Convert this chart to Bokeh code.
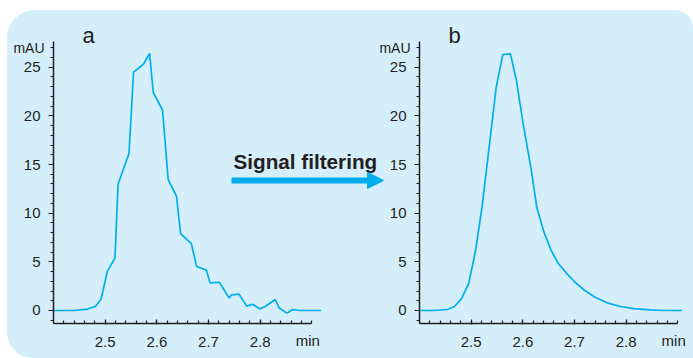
from bokeh.plotting import figure
from bokeh.models import (FixedTicker, Label, Arrow, NormalHead, Range1d, LinearAxis)
from bokeh.embed import file_html
from bokeh.resources import INLINE

# raw signal (panel a)
raw_t = [2.400, 2.440, 2.466, 2.481, 2.492, 2.504, 2.519, 2.525, 2.546, 2.555, 2.574,
         2.586, 2.593, 2.611, 2.622, 2.638, 2.646, 2.667, 2.677, 2.696, 2.703, 2.721,
         2.740, 2.744, 2.759, 2.774, 2.785, 2.799, 2.810, 2.829, 2.837, 2.852, 2.863,
         2.878, 2.918]
raw_y = [0.0, 0.0, 0.15, 0.42, 1.15, 4.0, 5.4, 13.0, 16.1, 24.5, 25.3,
         26.4, 22.4, 20.6, 13.45, 11.75, 7.9, 6.85, 4.52, 4.15, 2.83, 2.9,
         1.27, 1.6, 1.68, 0.45, 0.64, 0.17, 0.41, 1.13, 0.24, -0.27, 0.1,
         0.0, 0.0]

# filtered signal (panel b)
filt_t = [2.400, 2.428, 2.454, 2.468, 2.481, 2.495, 2.508, 2.521, 2.5355, 2.5485,
          2.5613, 2.576, 2.5877, 2.6006, 2.6165, 2.627, 2.640, 2.6545, 2.669, 2.6855,
          2.701, 2.720, 2.740, 2.763, 2.789, 2.815, 2.847, 2.872, 2.908]
filt_y = [0.0, 0.0, 0.1, 0.41, 1.2, 2.74, 6.0, 10.6, 17.1, 22.95,
          26.3, 26.37, 23.6, 19.2, 14.4, 10.6, 8.2, 6.2, 4.8, 3.77,
          2.9, 2.05, 1.37, 0.79, 0.41, 0.2, 0.07, 0.0, 0.0]

panel_labels = ["a", "b"]
x_major = [2.5, 2.6, 2.7, 2.8]
x_minor = [round(2.42 + 0.02 * i, 2) for i in range(25)]
y_major = [0, 5, 10, 15, 20, 25]
y_minor = list(range(-1, 28))
x_bounds = (2.4, 2.9)
y_bounds = (-1.336, 27.64)

LINE = "#00aeef"
TEXT = "#231f20"
BG = "#d4eefa"
FONT = "Liberation Sans"

p = figure(width=686, height=348, output_backend="svg", toolbar_location=None,
           x_range=Range1d(2.31097, 3.63862), y_range=Range1d(-4.932, 30.823),
           x_axis_location=None, y_axis_location=None,
           min_border=0, min_border_left=0, min_border_right=0,
           min_border_top=0, min_border_bottom=0, margin=(10, 0, 0, 7),
           styles={"background-color": BG, "border-radius": "28px 18px 0px 26px"})
p.extra_x_ranges = {"right": Range1d(1.60259, 2.93032)}
p.background_fill_alpha = 0
p.border_fill_alpha = 0
p.outline_line_color = None
p.grid.visible = False

p.line(raw_t, raw_y, line_color=LINE, line_width=1.7)
p.line(filt_t, filt_y, line_color=LINE, line_width=1.7, x_range_name="right")


def style(ax):
    ax.axis_line_color = TEXT
    ax.axis_line_width = 1.5
    ax.major_tick_line_color = TEXT
    ax.minor_tick_line_color = TEXT
    ax.major_tick_line_width = 1.2
    ax.minor_tick_line_width = 1.2
    ax.major_label_text_font = FONT
    ax.major_label_text_font_size = "15px"
    ax.major_label_text_color = TEXT


for rname, letter in zip(["default", "right"], panel_labels):
    xa = LinearAxis(x_range_name=rname, fixed_location=y_bounds[0], bounds=x_bounds,
                    ticker=FixedTicker(ticks=x_major, minor_ticks=x_minor),
                    major_tick_in=4, major_tick_out=1, minor_tick_in=3, minor_tick_out=0,
                    major_label_standoff=12)
    style(xa)
    p.add_layout(xa, "below")
    ya = LinearAxis(x_range_name=rname, fixed_location=x_bounds[0], bounds=y_bounds,
                    ticker=FixedTicker(ticks=y_major, minor_ticks=y_minor),
                    major_tick_in=0, major_tick_out=5, minor_tick_in=0, minor_tick_out=3,
                    major_label_standoff=8)
    style(ya)
    p.add_layout(ya, "left")

    p.add_layout(Label(x=2.4, y=27.0, x_offset=-9, x_range_name=rname, text="mAU",
                       text_align="right", text_baseline="middle", text_font=FONT,
                       text_font_size="14px", text_color=TEXT))
    p.add_layout(Label(x=2.892, y=-3.08, x_range_name=rname, text="min",
                       text_align="center", text_baseline="middle", text_font=FONT,
                       text_font_size="15px", text_color=TEXT))
    p.add_layout(Label(x=2.468, y=28.25, x_range_name=rname, text=letter,
                       text_align="center", text_baseline="alphabetic", text_font=FONT,
                       text_font_size="22px", text_color=TEXT))

p.add_layout(Label(x=2.7484, y=15.3, text="Signal filtering", text_align="left",
                   text_baseline="alphabetic", text_font=FONT, text_font_size="20.7px",
                   text_font_style="bold", text_color=TEXT))
p.add_layout(Arrow(end=NormalHead(size=16, fill_color=LINE, line_color=LINE),
                   x_start=2.7445, y_start=13.36, x_end=3.0387, y_end=13.36,
                   line_color=LINE, line_width=6))

open("out.html", "w").write(file_html(p, INLINE))
